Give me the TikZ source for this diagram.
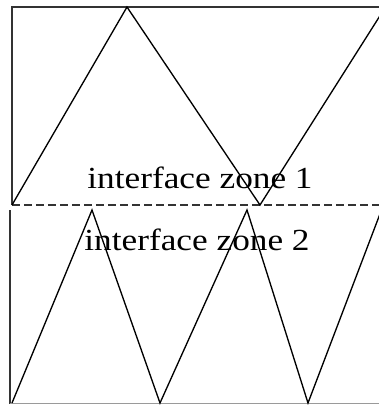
\documentclass[tikz,border=0pt]{standalone}
\usepackage{graphicx}
\usepackage{fontspec}
\setmainfont{Liberation Serif}
\usetikzlibrary{positioning}
\definecolor{cmarco}{HTML}{333333}
\definecolor{cbase}{HTML}{9A9A9A}
\tikzset{
  marco/.style={draw=cmarco, line width=1.6pt},
  base/.style={draw=cbase, line width=1pt},
  interfaz/.style={draw=cmarco, line width=1.4pt, dash pattern=on 6pt off 3pt},
  zigzag/.style={draw=black, line width=1pt, line join=miter},
  etq/.style={anchor=base, inner sep=0pt, font=\fontsize{23}{28}\selectfont},
}

\begin{document}
\begin{tikzpicture}[x=0.75pt, y=-0.75pt]
  \useasboundingbox (0,0) rectangle (379,405);
  \begin{scope}
  \clip (0,0) rectangle (379,405);
  % puntos de la zona 1
  \coordinate (a1) at (12,205);
  \coordinate (a2) at (127,7);
  \coordinate (a3) at (260,205);
  \coordinate (a4) at (383,11);
  % puntos de la zona 2
  \coordinate (b1) at (12,403);
  \coordinate (b2) at (92,210);
  \coordinate (b3) at (160,403);
  \coordinate (b4) at (247,210);
  \coordinate (b5) at (308,403);
  \coordinate (b6) at (383,206);
  \draw[marco] (12,205) -- (12,7) -- (381,7);
  \draw[marco] (10,210) -- (10,404);
  \draw[base] (10,403.5) -- (381,403.5);
  \draw[interfaz] (12,205) -- (381,205);
  \draw[zigzag] (a1) -- (a2) -- (a3) -- (a4);
  \draw[zigzag] (b1) -- (b2) -- (b3) -- (b4) -- (b5) -- (b6);
  \end{scope}
  \node[etq] (zona1) at (200,188) {\scalebox{1.15}[1]{interface zone 1}};
  \node[etq] (zona2) at (197,250) {\scalebox{1.15}[1]{interface zone 2}};
\end{tikzpicture}
\end{document}
